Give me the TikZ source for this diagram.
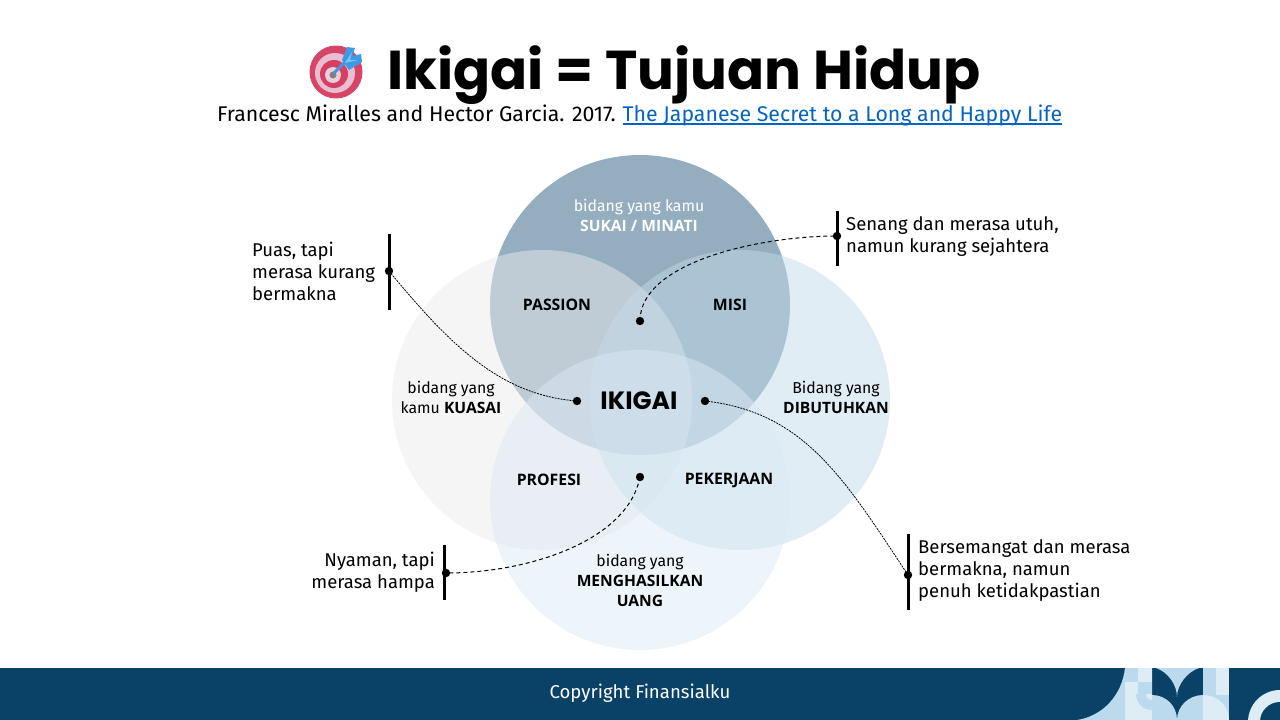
\documentclass[tikz,border=0pt]{standalone}
\usepackage{fontspec}
\setmainfont{Fira Sans}
\newfontfamily\headfont{Poppins}
\newfontfamily\capsfont{Open Sans}
\definecolor{navy}{HTML}{0A4267}
\definecolor{tileA}{HTML}{BBDAEE}
\definecolor{tileB}{HTML}{DEECF6}
\definecolor{linkblue}{HTML}{0563C1}
\newcommand{\capstext}[1]{{\capsfont\bfseries\fontsize{15.6}{20}\selectfont #1}}
\tikzset{
	note/.style={inner sep=0, font=\fontsize{18.5}{22}\selectfont},
	lab/.style={inner sep=0, align=center, font=\fontsize{15.8}{20}\selectfont},
	area/.style={inner sep=0, font=\fontsize{15.8}{20}\selectfont\capsfont\bfseries},
	cite/.style={inner sep=0, anchor=base west, font=\fontsize{21.3}{26}\selectfont},
	bar/.style={line width=3pt},
	fine/.style={line width=.8pt, dash pattern=on 2pt off 1pt},
	wide/.style={line width=1pt, dash pattern=on 4pt off 3pt},
}
\begin{document}
\begin{tikzpicture}[x=1pt, y=-1pt, line join=round]
	\useasboundingbox (0,0) rectangle (1280,720);
	\path
	(640,305) coordinate (T)
	(542,400) coordinate (L)
	(740,400) coordinate (R)
	(640,500) coordinate (B)
	(389,234) coordinate (a1) (389,310) coordinate (a2) (389,271) coordinate (a)
	(837,211) coordinate (b1) (837,266) coordinate (b2) (837,236) coordinate (b)
	(908,534) coordinate (c1) (908,610) coordinate (c2) (908,575) coordinate (c)
	(444,545) coordinate (d1) (444,600) coordinate (d2) (446,573) coordinate (d)
	(577,401) coordinate (p)
	(640,321) coordinate (q)
	(705,401) coordinate (r)
	(640,477) coordinate (s)
	;
	% circles
	\fill[color={rgb,255:red,148;green,174;blue,192}] (T) circle (150);
	\fill[color={rgb,255:red,235;green,235;blue,235}, opacity=.5] (L) circle (150);
	\fill[color={rgb,255:red,193;green,219;blue,233}, opacity=.5] (R) circle (150);
	\fill[color={rgb,255:red,219;green,233;blue,245}, opacity=.5] (B) circle (150);
	% title
	\node[inner sep=0, font=\headfont\bfseries\fontsize{54.7}{60}\selectfont] (title) at (684,75) {Ikigai = Tujuan Hidup};
	\node[cite] (ref) at (217,121) {Francesc Miralles and Hector Garcia. 2017.};
	\node[cite, text=linkblue] (link) at (622.5,121) {The Japanese Secret to a Long and Happy Life};
	\draw[linkblue, line width=1.2pt] ([yshift=-3pt]link.base west) -- ([yshift=-3pt]link.base east);
	% target icon
	\fill[color={rgb,255:red,216;green,68;blue,104}] (336,72) circle (26.5);
	\fill[color={rgb,255:red,232;green,190;blue,208}] (335,73) circle (20);
	\fill[color={rgb,255:red,214;green,62;blue,100}] (334,74) circle (14);
	\fill[color={rgb,255:red,236;green,205;blue,220}] (333,75) circle (8);
	\fill[color=gray] (333,75) circle (3.5);
	\draw[line width=3pt, color={rgb,255:red,70;green,150;blue,220}] (334,73)--(350,57);
	\fill[color={rgb,255:red,60;green,155;blue,230}] (342,60) -- (347,47) -- (355,48) -- (352,56) -- (361,54) -- (362,62) -- (349,70) -- cycle;
	\fill[color={rgb,255:red,120;green,200;blue,240}] (345,63) -- (352,52) -- (350,60) -- (358,60) -- cycle;
	% bars and links
	\foreach \u/\v in {a1/a2,b1/b2,c1/c2,d1/d2}
	\draw[bar] (\u)--(\v);
	\draw[fine] (a) .. controls (450,345) and (500,395) .. (p);
	\draw[wide] (q) .. controls (640,262) and (760,236) .. (b);
	\draw[fine] (r) .. controls (805,412) and (845,480) .. (c);
	\draw[wide] (s) .. controls (628,540) and (530,573) .. (d);
	\foreach \p in {a,b,c,d,p,q,r,s}
	\fill (\p) circle (4.2);
	% notes
	\node[note, align=left, anchor=west] (puas) at (252,271) {Puas, tapi\\merasa kurang\\bermakna};
	\node[note, align=left, anchor=west] (senang) at (846,237) {Senang dan merasa utuh,\\namun kurang sejahtera};
	\node[note, align=left, anchor=west] (semangat) at (918,571) {Bersemangat dan merasa\\bermakna, namun\\penuh ketidakpastian};
	\node[note, align=right, anchor=east] (nyaman) at (435,572) {Nyaman, tapi\\merasa hampa};
	% circle labels
	\node[lab, text=white] (sukai) at (639,215) {bidang yang kamu\\\capstext{SUKAI / MINATI}};
	\node[lab] (kuasai) at (451,397.5) {bidang yang\\kamu \capstext{KUASAI}};
	\node[lab] (butuh) at (836,397.5) {Bidang yang\\\capstext{DIBUTUHKAN}};
	\node[lab] (uang) at (640,580) {bidang yang\\\capstext{MENGHASILKAN}\\\capstext{UANG}};
	\node[area] (passion) at (557,305) {PASSION};
	\node[area] (misi) at (730,305) {MISI};
	\node[area] (profesi) at (549,480) {PROFESI};
	\node[area] (pekerjaan) at (729,480) {PEKERJAAN};
	\node[inner sep=0, font=\headfont\bfseries\fontsize{25}{28}\selectfont] (ikigai) at (639,401) {IKIGAI};
	% footer
	\fill[navy] (0,668) rectangle (1280,720);
	\fill[tileA] (1077,720) .. controls (1103,716) and (1122,695) .. (1125,668) -- (1152,668) -- (1152,720) -- cycle;
	\fill[tileB] (1125,682) rectangle (1152,720);
	\fill[tileB] (1138,668) rectangle (1152,682);
	\fill[tileA] (1138,682) rectangle (1152,694);
	\fill[tileA] (1136,694) .. controls (1136,703) and (1143,710) .. (1152,710) -- (1152,700) .. controls (1148,700) and (1146,698) .. (1146,694) -- cycle;
	\fill[tileA] (1156,668) .. controls (1168,672) and (1177,685) .. (1177,697) .. controls (1177,685) and (1187,672) .. (1199,668) -- cycle;
	\fill[tileA] (1152,695) .. controls (1166,695) and (1177,706) .. (1177,720) -- (1152,720) -- cycle;
	\fill[tileA] (1203,695) .. controls (1189,695) and (1177,706) .. (1177,720) -- (1203,720) -- cycle;
	\fill[tileA] (1203,668) rectangle (1229,720);
	\fill[tileB] (1216,668) rectangle (1229,695);
	\fill[tileB] (1203,695) .. controls (1218,695) and (1229,706) .. (1229,720) -- (1203,720) -- cycle;
	\begin{scope}
		\clip (1229,668) rectangle (1280,720);
		\fill[tileB] (1280,722) circle (32);
		\fill[navy] (1280,722) circle (20);
	\end{scope}
	\node[inner sep=0, text=white, font=\fontsize{18.6}{22}\selectfont] (copy) at (640,693) {Copyright Finansialku};
\end{tikzpicture}
\end{document}
